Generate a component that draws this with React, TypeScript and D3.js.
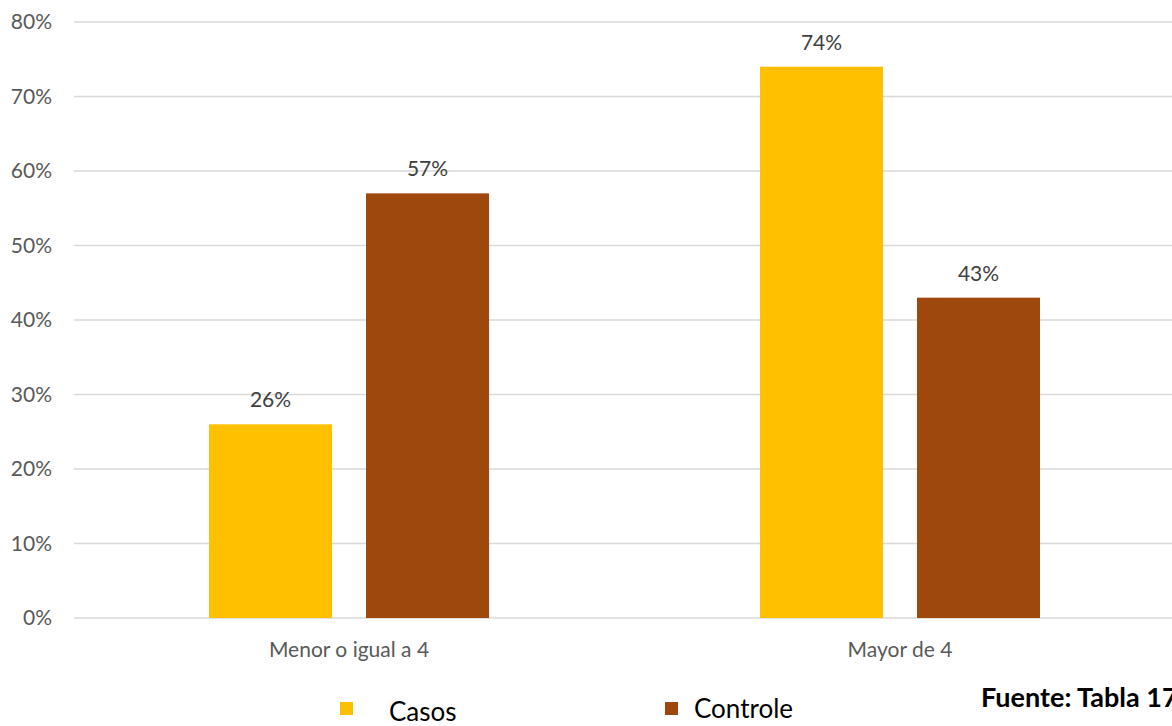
import React from "react";
import * as d3 from "d3";

const categories = ["Menor o igual a 4", "Mayor de 4"];
const series = ["Casos", "Controle"];
const casosValues = [0.26, 0.74];
const controleValues = [0.57, 0.43];
const yTicks = [0, 0.1, 0.2, 0.3, 0.4, 0.5, 0.6, 0.7, 0.8];
const colors = ["#FFC000", "#9E480E"];
const sourceText = "Fuente: Tabla 17";

const W = 1172;
const H = 726;
const FONT = "Lato, 'Open Sans', sans-serif";

export default function App() {
  const y = d3.scaleLinear().domain([0, 0.8]).range([618, 22]);
  const x0 = d3.scaleBand<string>().domain(categories).range([73.5, 1175.5]).padding(0);
  const groupW = 280;
  const x1 = d3
    .scaleBand<string>()
    .domain(series)
    .range([0, groupW])
    .paddingInner(34 / 157)
    .paddingOuter(0);
  const values = [casosValues, controleValues];
  const fmt = d3.format(".0%");

  return (
    <svg
      width={W}
      height={H}
      style={{ position: "absolute", left: 0, top: 0, background: "#fff" }}
      fontFamily={FONT}
    >
      {yTicks.map((t) => (
        <g key={t}>
          <line x1={74} x2={W} y1={y(t)} y2={y(t)} stroke="#D9D9D9" strokeWidth={1.5} />
          <text x={52} y={y(t)} dy="0.35em" textAnchor="end" fontSize={21} fill="#595959">
            {fmt(t)}
          </text>
        </g>
      ))}
      {categories.map((c, ci) => {
        const gx = (x0(c) as number) + (x0.bandwidth() - groupW) / 2;
        return (
          <g key={c}>
            {series.map((s, si) => {
              const v = values[si][ci];
              const bx = gx + (x1(s) as number);
              return (
                <g key={s}>
                  <rect
                    x={bx}
                    y={y(v)}
                    width={x1.bandwidth()}
                    height={y(0) - y(v)}
                    fill={colors[si]}
                  />
                  <text
                    x={bx + x1.bandwidth() / 2}
                    y={y(v) - 17}
                    textAnchor="middle"
                    fontSize={21}
                    fill="#404040"
                  >
                    {fmt(v)}
                  </text>
                </g>
              );
            })}
            <text
              x={(x0(c) as number) + x0.bandwidth() / 2}
              y={657}
              textAnchor="middle"
              fontSize={21}
              fill="#595959"
            >
              {c}
            </text>
          </g>
        );
      })}
      <rect x={340} y={702} width={13} height={13} fill={colors[0]} />
      <text x={389} y={721} fontSize={26} fill="#000">
        {series[0]}
      </text>
      <rect x={665} y={702} width={13} height={13} fill={colors[1]} />
      <text x={694} y={718} fontSize={26} fill="#000">
        {series[1]}
      </text>
      <text x={981} y={707} fontSize={27} fontWeight="bold" fill="#000">
        {sourceText}
      </text>
    </svg>
  );
}
